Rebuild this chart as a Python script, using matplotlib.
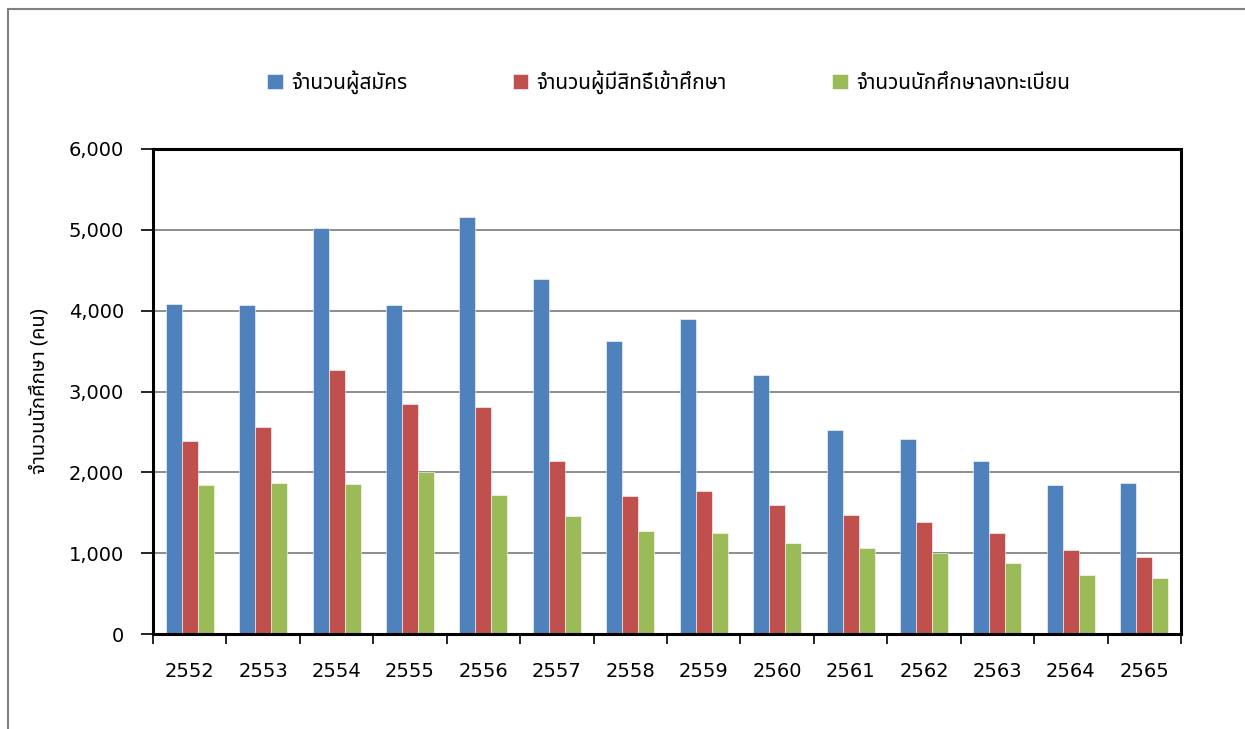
import matplotlib
matplotlib.use("Agg")
import matplotlib.pyplot as plt
import numpy as np
from matplotlib.patches import Rectangle

# data
years = ["2552", "2553", "2554", "2555", "2556", "2557", "2558",
         "2559", "2560", "2561", "2562", "2563", "2564", "2565"]
applicants = [4080, 4070, 5020, 4065, 5160, 4390, 3620,
              3895, 3200, 2525, 2415, 2135, 1845, 1865]
eligible = [2385, 2555, 3265, 2840, 2810, 2135, 1705,
            1770, 1590, 1470, 1380, 1245, 1045, 955]
registered = [1845, 1870, 1850, 2000, 1715, 1460, 1270,
              1245, 1125, 1060, 1000, 880, 735, 690]
series_names = ["จำนวนผู้สมัคร", "จำนวนผู้มีสิทธิ์เข้าศึกษา", "จำนวนนักศึกษาลงทะเบียน"]
y_label = "จำนวนนักศึกษา (คน)"

colors = ["#4f81bd", "#c0504d", "#9bbb59"]
thai_fonts = ["Noto Sans Thai", "Noto Sans Thai UI", "Loma", "Garuda",
              "Tlwg Typo", "Tahoma", "Noto Sans", "DejaVu Sans"]

plt.rcParams["font.family"] = ["DejaVu Sans"]

fig = plt.figure(figsize=(12.45, 7.29), dpi=100)
ax = fig.add_axes([153 / 1245, 1 - 634 / 729, (1181 - 153) / 1245, (634 - 149) / 729])

# outer chart frame (clipped on the right and bottom in the reference)
fig.patches.append(Rectangle((8 / 1245, -0.1), 1.2, 1 - 9 / 729 + 0.1,
                             transform=fig.transFigure, fill=False,
                             edgecolor="#808080", linewidth=1.5))

x = np.arange(len(years))
w = 0.218
for i, (vals, c) in enumerate(zip([applicants, eligible, registered], colors)):
    ax.bar(x + (i - 1) * w, vals, width=w, color=c, edgecolor="white",
           linewidth=0.4, label=series_names[i], zorder=2)

ax.set_xlim(-0.5, len(years) - 0.5)
ax.set_ylim(0, 6000)
ax.set_yticks(np.arange(0, 6001, 1000))
ax.set_yticklabels([f"{v:,}" for v in range(0, 6001, 1000)], fontsize=14)
ax.yaxis.grid(True, color="#7a7a7a", linewidth=1.2, zorder=0)

ax.set_xticks(x)
ax.set_xticklabels(years, fontsize=14)
ax.tick_params(axis="x", length=0, pad=20)
ax.set_xticks(np.arange(-0.5, len(years)), minor=True)
ax.tick_params(axis="x", which="minor", length=7, width=1.2, direction="out")
ax.tick_params(axis="y", length=9, width=1.2, direction="out", pad=12)

for side in ["left", "bottom", "top", "right"]:
    ax.spines[side].set_linewidth(2.2)
    ax.spines[side].set_color("black")
    ax.spines[side].set_zorder(4)

ax.set_ylabel(y_label, family=thai_fonts, fontsize=14.5, fontweight="bold", labelpad=14)

leg = fig.legend(loc="center", bbox_to_anchor=(0.537, 1 - 82 / 729), ncol=3,
                 frameon=False, handlelength=0.75, handleheight=0.75,
                 columnspacing=5.05, handletextpad=0.4,
                 prop={"family": thai_fonts, "size": 15, "weight": "bold"})

fig.savefig("out.png", dpi=100)
